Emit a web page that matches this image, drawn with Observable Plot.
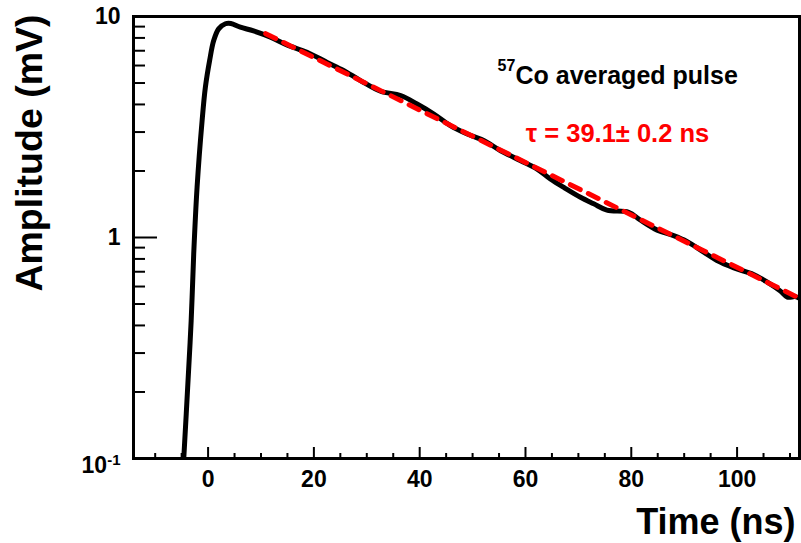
<!DOCTYPE html>
<html><head><meta charset="utf-8">
<script src="https://cdn.jsdelivr.net/npm/d3@7"></script>
<script src="https://cdn.jsdelivr.net/npm/@observablehq/plot@0.6"></script>
<style>body{margin:0;background:#fff}#chart{width:801px;height:543px}</style>
</head><body><div id="chart"></div>
<script>
// averaged pulse
const time = [-4.8, -4.6, -3.86, -3.2, -2.72, -2.08, -1.13, -0.51, 0.3, 1.06, 2.0, 3.27, 4.3, 6.1, 8.6, 11.8, 14.9, 18.7, 22.5, 25.6, 28.8, 32.6, 36.4, 39.5, 42.6, 45.8, 49.0, 52.1, 55.3, 59.0, 62.2, 64.7, 67.5, 70.4, 72.9, 75.4, 79.5, 81.7, 84.9, 88.0, 90.5, 93.7, 96.2, 99.4, 103.1, 105.7, 108.2, 109.5, 111.0, 111.8];
const amplitude = [0.085, 0.1, 0.21, 0.42, 0.84, 1.69, 3.38, 4.79, 6.34, 7.78, 8.79, 9.27, 9.3, 8.95, 8.6, 8.06, 7.44, 6.89, 6.2, 5.7, 5.13, 4.59, 4.39, 4.02, 3.63, 3.21, 2.94, 2.75, 2.47, 2.23, 2.04, 1.84, 1.67, 1.52, 1.42, 1.33, 1.30, 1.20, 1.08, 1.02, 0.96, 0.858, 0.787, 0.729, 0.68, 0.628, 0.572, 0.537, 0.54, 0.53];
// exponential fit endpoints
const fitTime = [10.9, 111.5];
const fitAmplitude = [8.36, 0.535];
// axes
const xMajorTicks = [0, 20, 40, 60, 80, 100];
const xMinorTicks = [-10, -5, 5, 10, 15, 25, 30, 35, 45, 50, 55, 65, 70, 75, 85, 90, 95, 105, 110];
const yMajorTicks = [0.1, 1, 10];
const yMinorTicks = [0.2, 0.3, 0.4, 0.5, 0.6, 0.7, 0.8, 0.9, 2, 3, 4, 5, 6, 7, 8, 9];
const xLabel = "Time (ns)";
const yLabel = "Amplitude (mV)";
const isotopeMass = "57";
const annotationTitle = "Co averaged pulse";
const fitLabel = "τ = 39.1± 0.2 ns";

const pulse = time.map((t, i) => ({t, a: amplitude[i]}));
const fit = fitTime.map((t, i) => ({t, a: fitAmplitude[i]}));

const W = 801, H = 543, ML = 133, MT = 16, MR = 2, MB = 85;
const FW = W - ML - MR, FH = H - MT - MB;
const font = "Liberation Sans, Arial, Helvetica, sans-serif";

const svg = Plot.plot({
  width: W, height: H,
  marginLeft: ML, marginTop: MT, marginRight: MR, marginBottom: MB,
  style: {fontFamily: font, fontWeight: "bold", fontSize: "23px", background: "white", color: "black"},
  x: {domain: [-14.1, 111.8]},
  y: {type: "log", domain: [0.1, 10]},
  marks: [
    Plot.line(pulse, {x: "t", y: "a", stroke: "black", strokeWidth: 5, curve: "catmull-rom", clip: true}),
    Plot.line(fit, {x: "t", y: "a", stroke: "#ff0000", strokeWidth: 5, strokeDasharray: "11,9", clip: true}),
    Plot.ruleX(xMajorTicks, {x: d => d, insetTop: FH - 11, stroke: "black", strokeWidth: 2}),
    Plot.ruleX(xMinorTicks, {x: d => d, insetTop: FH - 5, stroke: "black", strokeWidth: 2}),
    Plot.ruleY(yMajorTicks, {y: d => d, insetRight: FW - 24, stroke: "black", strokeWidth: 2}),
    Plot.ruleY(yMinorTicks, {y: d => d, insetRight: FW - 12, stroke: "black", strokeWidth: 2}),
    Plot.frame({stroke: "black", strokeWidth: 3}),
    Plot.axisX(xMajorTicks, {tickSize: 0, tickPadding: 12, fontSize: 23, fontWeight: "bold", label: null}),
    Plot.axisY(yMajorTicks, {tickSize: 0, tickPadding: 13, fontSize: 23, fontWeight: "bold", label: null,
      tickFormat: d => d < 1 ? "10^-1" : String(d)}),
    Plot.text([xLabel], {frameAnchor: "bottom-right", textAnchor: "end", lineAnchor: "bottom", dx: -4, dy: 75, fontSize: 36, fontWeight: "bold", fill: "black"}),
    Plot.text([yLabel], {frameAnchor: "top-left", textAnchor: "end", lineAnchor: "bottom", rotate: -90, dx: -92, dy: -2, fontSize: 37.5, fontWeight: "bold", fill: "black"}),
    Plot.text([isotopeMass], {frameAnchor: "top-left", textAnchor: "start", lineAnchor: "bottom", dx: 364, dy: 54, fontSize: 16, fontWeight: "bold", fill: "black"}),
    Plot.text([annotationTitle], {frameAnchor: "top-left", textAnchor: "start", lineAnchor: "bottom", dx: 382, dy: 67, fontSize: 25, fontWeight: "bold", fill: "black"}),
    Plot.text([fitLabel], {frameAnchor: "top-left", textAnchor: "middle", lineAnchor: "bottom", dx: 484, dy: 125, fontSize: 25.5, fontWeight: "bold", fill: "#ff0000"})
  ]
});

// superscript for 10^-1 tick label
d3.select(svg).selectAll("text").each(function() {
  if (this.textContent === "10^-1") {
    const t = d3.select(this);
    t.text("").attr("y", "0.62em");
    t.append("tspan").text("10");
    t.append("tspan").attr("dy", "-0.55em").attr("font-size", "15px").text("-1");
  }
});

document.getElementById("chart").appendChild(svg);
</script>
</body></html>
